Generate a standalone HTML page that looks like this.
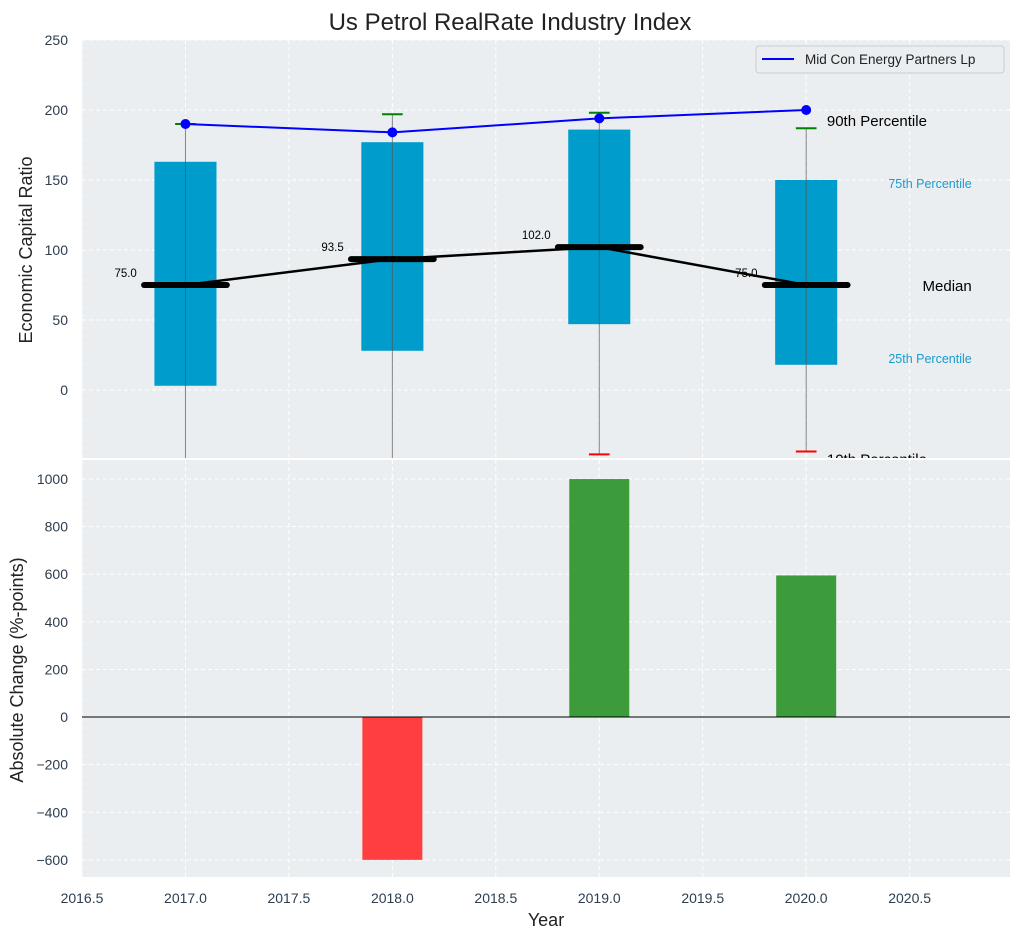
<!DOCTYPE html>
<html><head><meta charset="utf-8"><style>
body{margin:0;background:#fff;font-family:"Liberation Sans",Arial,sans-serif}
svg text{font-family:"Liberation Sans",Arial,sans-serif}
</style></head><body>
<svg id="c" width="1021" height="940" xmlns="http://www.w3.org/2000/svg"></svg>
<script>
const years=[2017,2018,2019,2020];
const p10=[-80,-80,-46,-44];
const p25=[3,28,47,18];
const med=[75,93.5,102,75];
const p75=[163,177,186,150];
const p90=[190,197,198,187];
const company=[190,184,194,200];
const changes=[null,-600,1000,595];
const xTicks=[2016.5,2017,2017.5,2018,2018.5,2019,2019.5,2020,2020.5];
const yTopTicks=[0,50,100,150,200,250];
const yBotTicks=[-600,-400,-200,0,200,400,600,800,1000];

const svg=document.getElementById('c');
const NS='http://www.w3.org/2000/svg';
function el(tag,attrs,parent,text){const e=document.createElementNS(NS,tag);for(const k in attrs)e.setAttribute(k,attrs[k]);if(text!==undefined)e.textContent=text;(parent||svg).appendChild(e);return e;}
const L=82,R=1010;
const X=v=>L+(v-2016.5)/(2020.985-2016.5)*(R-L);
const T0=40,T1=458; const YT=v=>T1+(v-(-48.6))/(250+48.6)*(T0-T1);
const B0=460,B1=877; const YB=v=>B1+(v-(-672))/(1080+672)*(B0-B1);
const TC='#2c3e50';

el('text',{x:510,y:30,'text-anchor':'middle','font-size':24,fill:'#222',},svg,'Us Petrol RealRate Industry Index');
el('rect',{x:L,y:T0,width:R-L,height:T1-T0,fill:'#eaeef0',});
el('rect',{x:L,y:B0,width:R-L,height:B1-B0,fill:'#eaeef0',});
const clipT=el('clipPath',{id:'ct'});el('rect',{x:L,y:T0,width:R-L,height:T1-T0},clipT);
const gT=el('g',{'clip-path':'url(#ct)',});
const gB=el('g',{});
xTicks.forEach(v=>{
 el('line',{x1:X(v),x2:X(v),y1:T0,y2:T1,stroke:'#fff','stroke-dasharray':'4,3','stroke-width':1},gT);
 el('line',{x1:X(v),x2:X(v),y1:B0,y2:B1,stroke:'#fff','stroke-dasharray':'4,3','stroke-width':1},gB);
 const t=el('text',{x:X(v),y:903,'text-anchor':'middle','font-size':14,fill:TC},svg,v.toFixed(1));
 
});
yTopTicks.forEach(v=>{
 el('line',{x1:L,x2:R,y1:YT(v),y2:YT(v),stroke:'#fff','stroke-dasharray':'4,3'},gT);
 const t=el('text',{x:68,y:YT(v)+5,'text-anchor':'end','font-size':14,fill:TC},svg,v);
 
});
yBotTicks.forEach(v=>{
 el('line',{x1:L,x2:R,y1:YB(v),y2:YB(v),stroke:'#fff','stroke-dasharray':'4,3'},gB);
 const t=el('text',{x:68,y:YB(v)+5,'text-anchor':'end','font-size':14,fill:TC},svg,(v<0?'\u2212'+(-v):v));
 
});
years.forEach((y,i)=>{
 const b=el('rect',{x:X(y-0.15),y:YT(p75[i]),width:X(y+0.15)-X(y-0.15),height:YT(p25[i])-YT(p75[i]),fill:'#009ccc'},gT);
 
 const w=el('line',{x1:X(y),x2:X(y),y1:YT(p90[i]),y2:YT(p10[i]),stroke:'#555','stroke-width':1,opacity:0.7},gT);
 
 const c=el('line',{x1:X(y-0.05),x2:X(y+0.05),y1:YT(p90[i]),y2:YT(p90[i]),stroke:'green','stroke-width':2},gT);
 
 const c2=el('line',{x1:X(y-0.05),x2:X(y+0.05),y1:YT(p10[i]),y2:YT(p10[i]),stroke:'red','stroke-width':2},gT);
 
});
const mp=el('polyline',{points:years.map((y,i)=>X(y)+','+YT(med[i])).join(' '),fill:'none',stroke:'#000','stroke-width':2.5},gT);

years.forEach((y,i)=>{
 const m=el('line',{x1:X(y-0.2),x2:X(y+0.2),y1:YT(med[i]),y2:YT(med[i]),stroke:'#000','stroke-width':6,'stroke-linecap':'round'},gT);
 
 const t=el('text',{x:X(y-0.235),y:YT(med[i])-8,'text-anchor':'end','font-size':11.5,fill:'#000'},gT,med[i].toFixed(1));
 
});
const cp=el('polyline',{points:years.map((y,i)=>X(y)+','+YT(company[i])).join(' '),fill:'none',stroke:'#0000ff','stroke-width':2},gT);

years.forEach((y,i)=>{const c=el('circle',{cx:X(y),cy:YT(company[i]),r:5,fill:'#0000ff'},gT);
 });
const last=years.length-1;
el('text',{x:X(2020.1),y:YT(p90[last])-2,'font-size':15,fill:'#000',},gT,'90th Percentile');
el('text',{x:X(2020.8),y:YT(p75[last])+8,'font-size':12.5,fill:'#1a9cd0','text-anchor':'end',},gT,'75th Percentile');
el('text',{x:X(2020.8),y:YT(med[last])+6,'font-size':15,fill:'#000','text-anchor':'end',},gT,'Median');
el('text',{x:X(2020.8),y:YT(p25[last])-2,'font-size':12.5,fill:'#1a9cd0','text-anchor':'end',},gT,'25th Percentile');
el('text',{x:X(2020.1),y:YT(p10[last])+13,'font-size':15,fill:'#000',},gT,'10th Percentile');
el('rect',{x:756,y:46,width:248,height:27,rx:3,fill:'#eaeef0',stroke:'#ccc',});
el('line',{x1:762,x2:794,y1:59,y2:59,stroke:'#0000ff','stroke-width':2,});
el('text',{x:805,y:64,'font-size':13.5,fill:'#222',},svg,'Mid Con Energy Partners Lp');
years.forEach((y,i)=>{ if(changes[i]==null)return;
 const v=changes[i];
 const b=el('rect',{x:X(y-0.145),y:Math.min(YB(0),YB(v)),width:X(y+0.145)-X(y-0.145),height:Math.abs(YB(v)-YB(0)),fill:v<0?'#ff3f3f':'#3c9c3c'},gB);
 
});
el('line',{x1:L,x2:R,y1:YB(0),y2:YB(0),stroke:'#000','stroke-width':1,},gB);
el('text',{x:0,y:0,transform:'translate(32,250) rotate(-90)','text-anchor':'middle','font-size':18,fill:'#222',},svg,'Economic Capital Ratio');
el('text',{x:0,y:0,transform:'translate(23,670) rotate(-90)','text-anchor':'middle','font-size':18,fill:'#222',},svg,'Absolute Change (%-points)');
el('text',{x:546,y:926,'text-anchor':'middle','font-size':18,fill:'#222',},svg,'Year');
</script>
</body></html>
